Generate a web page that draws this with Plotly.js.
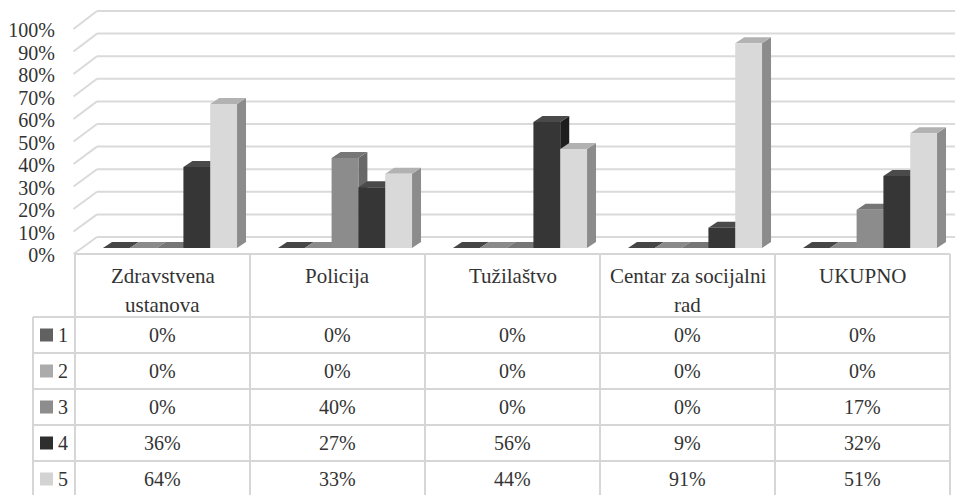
<!DOCTYPE html>
<html><head><meta charset="utf-8">
<script src="https://cdn.plot.ly/plotly-3.0.1.min.js"></script>
<style>html,body{margin:0;padding:0;background:#fff}#chart{width:955px;height:495px}</style>
</head><body><div id="chart"></div>
<script>
// ---- data ----
const categories = ["Zdravstvena\nustanova", "Policija", "Tužilaštvo", "Centar za socijalni\nrad", "UKUPNO"];
const seriesNames = ["1", "2", "3", "4", "5"];
const s1 = [0, 0, 0, 0, 0];
const s2 = [0, 0, 0, 0, 0];
const s3 = [0, 40, 0, 0, 17];
const s4 = [36, 27, 56, 9, 32];
const s5 = [64, 33, 44, 91, 51];
const yTicks = [0, 10, 20, 30, 40, 50, 60, 70, 80, 90, 100];
const yTickLabels = ["0%", "10%", "20%", "30%", "40%", "50%", "60%", "70%", "80%", "90%", "100%"];
const series = [s1, s2, s3, s4, s5];

// ---- styles ----
const frontColors = ["#5a5a5a", "#a2a2a2", "#8c8c8c", "#363636", "#d9d9d9"];
const topColors   = ["#464646", "#8a8a8a", "#767676", "#4a4a4a", "#b2b2b2"];
const sideColors  = ["#3a3a3a", "#7e7e7e", "#686868", "#1e1e1e", "#8c8c8c"];
const legendColors = ["#616161", "#ababab", "#8d8d8d", "#2e2e2e", "#d3d3d3"];
const FONT = "Liberation Serif";
const TXT = "#333333";
const GRID = "#dadada";
const TLINE = "#d6d6d6";

// ---- geometry ----
const W = 955, H = 495;
const catPx = 175;                 // pixels per category
const xDom0 = 82.5, xDom1 = 955;
const xR0 = -0.5, xR1 = xR0 + (xDom1 - xDom0) / catPx;
const yTopPx = 5, yBotPx = 254;
const bar0 = 248, kBar = 2.25;     // bar plane: 0 at px 248, 2.25 px per %
const yR0 = (bar0 - yBotPx) / kBar, yR1 = (bar0 - yTopPx) / kBar;
const bargap = 0.234;
const groupW = 1 - bargap, barW = groupW / series.length;
const dxU = 9 / catPx, dyU = 6 / kBar;   // depth offset in data units
const px = x => x / W, py = y => 1 - y / H;
const backY = v => 237 - 2.26 * v, frontY = v => 254 - 2.25 * v;
const catToPx = c => xDom0 + (c - xR0) * catPx;

const xIdx = categories.map((c, i) => i);
const traces = series.map((vals, s) => ({
  type: 'bar', x: xIdx, y: vals, name: seriesNames[s],
  marker: {color: frontColors[s], line: {width: 0}},
  hoverinfo: 'skip', showlegend: false
}));

const shapes = [];
// back wall gridlines + left wall diagonals
yTicks.forEach(v => {
  shapes.push({type: 'line', xref: 'paper', yref: 'paper', layer: 'below',
    x0: px(97), x1: 1, y0: py(backY(v)), y1: py(backY(v)), line: {color: GRID, width: 2}});
  shapes.push({type: 'line', xref: 'paper', yref: 'paper', layer: 'below',
    x0: px(73.5), x1: px(97), y0: py(frontY(v)), y1: py(backY(v)), line: {color: GRID, width: 2}});
});
// 3D faces of bars
series.forEach((vals, s) => {
  vals.forEach((v, k) => {
    const L = k - groupW / 2 + s * barW, R = L + barW;
    shapes.push({type: 'path', xref: 'x', yref: 'y', layer: 'below',
      path: `M${R},0 L${R + dxU},${dyU} L${R + dxU},${v + dyU} L${R},${v} Z`,
      fillcolor: sideColors[s], line: {width: 0}});
    shapes.push({type: 'path', xref: 'x', yref: 'y', layer: 'below',
      path: `M${L},${v} L${R},${v} L${R + dxU},${v + dyU} L${L + dxU},${v + dyU} Z`,
      fillcolor: topColors[s], line: {width: 0}});
  });
});

// ---- table ----
const tShift = -7.5 / catPx;          // table columns vs bar groups
const colEdges = [];
for (let k = 0; k <= categories.length; k++) colEdges.push(catToPx(k - 0.5 + tShift));
const tLeft = colEdges[0], tRight = colEdges[colEdges.length - 1];
const legLeft = 33, headTop = 254, rowTop = 317, rowH = 36;
const tBottom = rowTop + rowH * series.length;
const tl = (x0, y0, x1, y1) => shapes.push({type: 'line', xref: 'paper', yref: 'paper', layer: 'above',
  x0: px(x0), x1: px(x1), y0: py(y0), y1: py(y1), line: {color: TLINE, width: 2}});
tl(tLeft, headTop, tRight, headTop);
for (let r = 0; r <= series.length; r++) tl(legLeft, rowTop + r * rowH, tRight, rowTop + r * rowH);
colEdges.forEach(x => tl(x, headTop, x, tBottom));
tl(legLeft, rowTop, legLeft, tBottom);

const annotations = [];
const ann = (x, y, text, size) => annotations.push({xref: 'paper', yref: 'paper', x: px(x), y: py(y),
  text: text, showarrow: false, xanchor: 'center', yanchor: 'middle',
  font: {family: FONT, size: size || 20, color: TXT}});
categories.forEach((c, k) => {
  const cx = catToPx(k + tShift);
  c.split("\n").forEach((line, j) => ann(cx, 276 + j * 29, line, 21));
});
series.forEach((vals, s) => {
  const cy = rowTop + rowH * s + rowH / 2;
  shapes.push({type: 'rect', xref: 'paper', yref: 'paper', layer: 'above',
    x0: px(40), x1: px(53), y0: py(cy - 6.5), y1: py(cy + 6.5),
    fillcolor: legendColors[s], line: {width: 0}});
  ann(63.5, cy, seriesNames[s]);
  vals.forEach((v, k) => ann(catToPx(k + tShift), cy, v + '%'));
});

const layout = {
  width: W, height: H,
  margin: {l: 0, r: 0, t: 0, b: 0, pad: 0},
  paper_bgcolor: '#ffffff', plot_bgcolor: 'rgba(0,0,0,0)',
  font: {family: FONT, size: 20, color: TXT},
  barmode: 'group', bargap: bargap, bargroupgap: 0,
  showlegend: false,
  xaxis: {domain: [px(xDom0), 1], range: [xR0, xR1], showgrid: false, zeroline: false,
    showline: false, showticklabels: false, ticks: '', fixedrange: true},
  yaxis: {domain: [py(yBotPx), py(yTopPx)], range: [yR0, yR1], anchor: 'free', position: px(55),
    tickmode: 'array', tickvals: yTicks, ticktext: yTickLabels, ticks: '',
    ticklabelshift: 7, showgrid: false, zeroline: false, showline: false,
    tickfont: {family: FONT, size: 20, color: TXT}, fixedrange: true},
  shapes: shapes,
  annotations: annotations
};
Plotly.newPlot('chart', traces, layout, {displayModeBar: false, staticPlot: true});
</script></body></html>
